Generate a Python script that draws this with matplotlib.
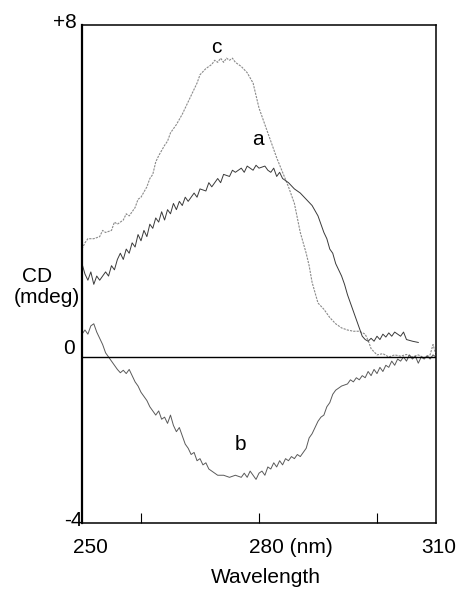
import matplotlib
matplotlib.use("Agg")
import matplotlib.pyplot as plt

# curve a (dark trace)
wl_a = [250, 250.5, 251, 251.5, 252, 252.5, 253, 254, 254.5, 255, 255.5, 256, 256.5, 257,
        257.5, 258, 258.5, 259, 259.5, 260, 260.5, 261, 261.5, 262, 262.5, 263, 263.5, 264,
        264.5, 265, 265.5, 266, 266.5, 267, 267.5, 268, 269, 269.5, 270, 271, 271.5, 272,
        273, 273.5, 274, 275, 275.5, 276, 277, 277.5, 278, 279, 279.5, 280, 281, 281.5, 282,
        282.5, 283, 283.5, 284, 285, 286, 287, 288, 289, 290, 290.5, 291, 291.5, 292, 292.5,
        293, 294, 294.5, 295, 295.5, 296, 296.5, 297, 297.5, 298, 298.5, 299, 299.5, 300,
        300.5, 301, 301.5, 302, 302.5, 303, 303.5, 304, 304.5, 305, 306, 307]
cd_a = [2.25, 2.0, 1.85, 2.05, 1.75, 1.95, 1.85, 2.05, 1.95, 2.2, 2.1, 2.35, 2.5, 2.35,
        2.6, 2.5, 2.75, 2.65, 2.95, 2.8, 3.05, 2.9, 3.2, 3.1, 3.35, 3.25, 3.5, 3.3,
        3.55, 3.45, 3.7, 3.55, 3.75, 3.65, 3.85, 3.75, 3.95, 3.85, 4.05, 4.0, 4.2, 4.1,
        4.3, 4.2, 4.4, 4.35, 4.5, 4.45, 4.55, 4.45, 4.6, 4.5, 4.62, 4.55, 4.6, 4.5, 4.45,
        4.55, 4.35, 4.45, 4.3, 4.2, 4.05, 3.95, 3.8, 3.65, 3.4, 3.2, 3.0, 2.85, 2.6, 2.5,
        2.25, 1.95, 1.75, 1.5, 1.3, 1.1, 0.9, 0.7, 0.5, 0.42, 0.38, 0.45, 0.38, 0.5,
        0.42, 0.55, 0.48, 0.58, 0.5, 0.6, 0.55, 0.5, 0.6, 0.42, 0.38, 0.35]

# curve b (negative band)
wl_b = [250, 250.5, 251, 251.5, 252, 252.5, 253, 253.5, 254, 254.5, 255, 255.5, 256, 256.5,
        257, 257.5, 258, 258.5, 259, 259.5, 260, 260.5, 261, 261.5, 262, 262.5, 263, 263.5,
        264, 264.5, 265, 265.5, 266, 266.5, 267, 267.5, 268, 268.5, 269, 269.5, 270, 270.5,
        271, 271.5, 272, 273, 274, 275, 276, 277, 277.5, 278, 278.5, 279, 279.5, 280, 280.5,
        281, 281.5, 282, 282.5, 283, 283.5, 284, 284.5, 285, 285.5, 286, 286.5, 287, 287.5,
        288, 288.5, 289, 289.5, 290, 290.5, 291, 291.5, 292, 292.5, 293, 293.5, 294, 295,
        295.5, 296, 296.5, 297, 297.5, 298, 298.5, 299, 299.5, 300, 300.5, 301, 301.5, 302,
        302.5, 303, 303.5, 304, 304.5, 305, 305.5, 306, 306.5, 307, 307.5, 308, 308.5, 309,
        309.5, 310]
cd_b = [0.55, 0.65, 0.55, 0.75, 0.8, 0.6, 0.45, 0.3, 0.1, 0.0, -0.1, -0.2, -0.3, -0.38,
        -0.32, -0.4, -0.3, -0.45, -0.6, -0.7, -0.85, -0.95, -1.05, -1.2, -1.3, -1.4, -1.3, -1.5,
        -1.45, -1.6, -1.4, -1.65, -1.8, -1.7, -1.9, -2.1, -2.2, -2.35, -2.3, -2.5, -2.45, -2.6,
        -2.55, -2.7, -2.75, -2.85, -2.85, -2.9, -2.85, -2.9, -2.8, -2.9, -2.75, -2.85, -2.95, -2.8, -2.75,
        -2.85, -2.65, -2.7, -2.55, -2.65, -2.5, -2.6, -2.45, -2.5, -2.4, -2.45, -2.35, -2.4, -2.3,
        -2.2, -1.95, -1.85, -1.7, -1.55, -1.45, -1.4, -1.2, -1.1, -0.9, -0.8, -0.75, -0.7, -0.65,
        -0.55, -0.6, -0.5, -0.55, -0.45, -0.5, -0.35, -0.45, -0.3, -0.4, -0.25, -0.35, -0.2, -0.25,
        -0.1, -0.2, -0.05, -0.1, 0.0, -0.1, 0.05, -0.05, 0.02, -0.15, 0.0, -0.05, 0.03, -0.05,
        0.05, 0.0]

# curve c (light dotted trace)
wl_c = [250, 250.5, 251, 252, 253, 253.5, 254, 255, 255.5, 256, 257, 257.5, 258, 259, 259.5,
        260, 261, 261.5, 262, 262.5, 263, 264, 264.5, 265, 266, 267, 268, 269, 269.5, 270,
        271, 272, 272.5, 273, 273.5, 274, 274.5, 275, 275.5, 276, 277, 278, 279, 279.5, 280,
        281, 282, 283, 284, 285, 286, 287, 288, 288.5, 289, 290, 291, 292, 293, 294, 295,
        296, 297, 298, 298.5, 299, 300, 301, 302, 303, 304, 305, 306, 307, 308, 309, 309.5, 310]
cd_c = [2.6, 2.75, 2.85, 2.85, 2.9, 3.05, 3.0, 3.05, 3.25, 3.2, 3.3, 3.45, 3.4, 3.6, 3.8,
        3.85, 4.1, 4.3, 4.4, 4.7, 4.85, 5.1, 5.2, 5.4, 5.6, 5.85, 6.15, 6.45, 6.6, 6.8,
        6.95, 7.05, 7.15, 7.1, 7.2, 7.1, 7.2, 7.15, 7.2, 7.1, 7.0, 6.85, 6.6, 6.3, 6.0,
        5.6, 5.2, 4.8, 4.45, 4.1, 3.7, 3.0, 2.5, 2.2, 1.8, 1.3, 1.15, 0.95, 0.8, 0.7, 0.65,
        0.62, 0.62, 0.55, 0.4, 0.2, 0.05, 0.08, 0.0, 0.05, 0.02, 0.06, 0.0, 0.05, -0.02, 0.05, 0.3, 0.05]

font = "Liberation Sans"
fs = 15

fig = plt.figure(figsize=(4.72, 5.92), dpi=100)
ax = fig.add_axes([0.1737, 0.1166, 0.75, 0.8412])

ax.plot(wl_c, cd_c, color="#8a8a8a", linewidth=0.8, linestyle=(0, (2, 1)))
ax.plot(wl_a, cd_a, color="#3a3a3a", linewidth=0.7)
ax.plot(wl_b, cd_b, color="#5a5a5a", linewidth=0.7)
ax.axhline(0, color="black", linewidth=1.0)

ax.set_xlim(250, 310)
ax.set_ylim(-4, 8)
ax.set_xticks([260, 280, 300])
ax.set_xticklabels([])
ax.set_yticks([])
ax.tick_params(axis="x", direction="in", length=7, width=0.8)
for s in ax.spines.values():
    s.set_linewidth(1.1)
ax.spines["left"].set_linewidth(1.6)

# curve labels
ax.text(272.7, 7.45, "c", fontsize=fs, family=font, ha="center", va="center")
ax.text(279.8, 5.25, "a", fontsize=fs, family=font, ha="center", va="center")
ax.text(276.8, -2.1, "b", fontsize=fs, family=font, ha="center", va="center")

# axis labels written as plain text, like the original figure
ax.text(251.5, -4.6, "250", fontsize=fs, family=font, ha="center", va="center")
ax.text(278.3, -4.6, "280 (nm)", fontsize=fs, family=font, ha="left", va="center")
ax.text(310.5, -4.6, "310", fontsize=fs, family=font, ha="center", va="center")
ax.text(0.52, -0.11, "Wavelength", fontsize=fs, family=font, ha="center", va="center",
        transform=ax.transAxes)

ytr = ax.get_yaxis_transform()
ax.text(-0.015, 8.05, "+8", fontsize=fs, family=font, ha="right", va="center", transform=ytr)
ax.text(-0.02, 0.2, "0", fontsize=fs, family=font, ha="right", va="center", transform=ytr)
ax.text(0.003, -3.95, "-4", fontsize=fs, family=font, ha="right", va="center", transform=ytr)
ax.text(-0.128, 0.495, "CD", fontsize=fs, family=font, ha="center", va="center",
        transform=ax.transAxes)
ax.text(-0.10, 0.453, "(mdeg)", fontsize=fs, family=font, ha="center", va="center",
        transform=ax.transAxes)

fig.savefig("out.png", dpi=100)
